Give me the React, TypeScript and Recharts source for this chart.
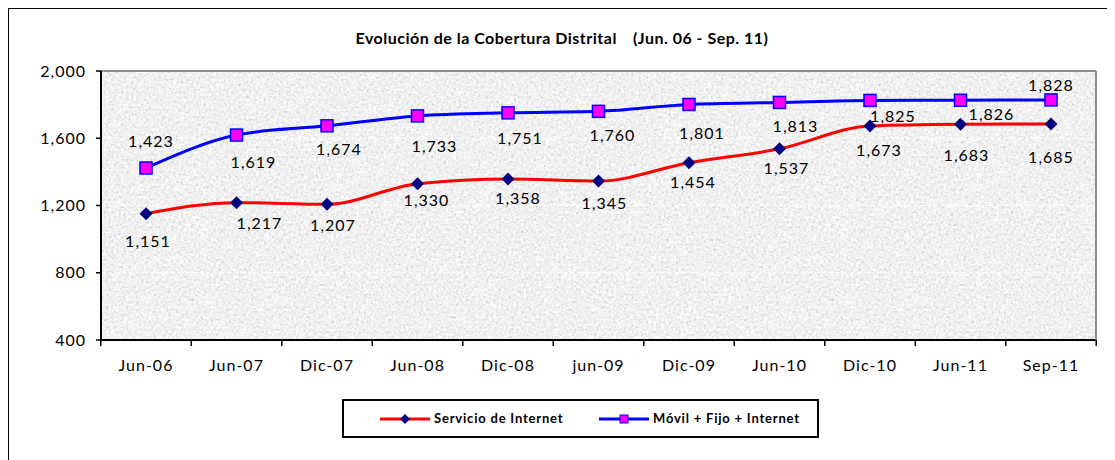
import React from "react";
import {
  LineChart,
  Line,
  CartesianGrid,
  XAxis,
  YAxis,
  ReferenceLine,
  LabelList,
} from "recharts";

const categories = [
  "Jun-06",
  "Jun-07",
  "Dic-07",
  "Jun-08",
  "Dic-08",
  "jun-09",
  "Dic-09",
  "Jun-10",
  "Dic-10",
  "Jun-11",
  "Sep-11",
];
const servicioInternet = [1151, 1217, 1207, 1330, 1358, 1345, 1454, 1537, 1673, 1683, 1685];
const movilFijoInternet = [1423, 1619, 1674, 1733, 1751, 1760, 1801, 1813, 1825, 1826, 1828];
const yTicks = [400, 800, 1200, 1600, 2000];

// label nudges (dx, dy) from the point, like the excel layout
const redLabelOffsets = [
  [2, 27], [23, 20], [6, 20], [9, 16], [10, 19], [6, 21],
  [4, 19], [7, 19], [9, 24], [6, 30], [0, 33],
];
const blueLabelOffsets = [
  [5, -28], [17, 26], [12, 23], [17, 30], [12, 25], [14, 23],
  [13, 28], [16, 23], [23, 15], [31, 13], [0, -15],
];

const FONT = "Lato, 'Open Sans', sans-serif";
const TICK_MARGIN = 20;

const chartData = categories.map((cat, i) => ({
  cat,
  internet: servicioInternet[i],
  movil: movilFijoInternet[i],
}));

const fmt = (v: number) => v.toLocaleString("en-US");

const Diamond = (props: any) => {
  const { cx, cy } = props;
  if (cx == null || cy == null) return null;
  const r = 6.5;
  return (
    <path
      d={`M${cx},${cy - r}L${cx + r},${cy}L${cx},${cy + r}L${cx - r},${cy}Z`}
      fill="#000080"
    />
  );
};

const Square = (props: any) => {
  const { cx, cy } = props;
  if (cx == null || cy == null) return null;
  return (
    <rect
      x={cx - 6}
      y={cy - 6}
      width={12}
      height={12}
      fill="#FF00FF"
      stroke="#0000FF"
      strokeWidth={1.5}
    />
  );
};

// category label plus excel-style tick marks on the band edges
const CategoryTick = (props: any) => {
  const { x, y, payload, index, width } = props;
  const half = width / categories.length / 2;
  const axisY = y - TICK_MARGIN;
  const last = index === categories.length - 1;
  return (
    <g>
      <line x1={x - half} y1={axisY} x2={x - half} y2={axisY + 6} stroke="#000" strokeWidth={1.5} />
      {last && (
        <line x1={x + half} y1={axisY} x2={x + half} y2={axisY + 6} stroke="#000" strokeWidth={1.5} />
      )}
      <text
        x={x}
        y={y}
        dy="0.71em"
        textAnchor="middle"
        fontSize={16}
        letterSpacing={1}
        fontFamily={FONT}
        fill="#000"
      >
        {payload.value}
      </text>
    </g>
  );
};

const makeLabel = (offsets: number[][]) => (props: any) => {
  const { x, y, value, index } = props;
  const [dx, dy] = offsets[index] ?? [0, 20];
  return (
    <text
      x={x + dx}
      y={y + dy}
      textAnchor="middle"
      dominantBaseline="central"
      fontSize={16}
      letterSpacing={1}
      fontFamily={FONT}
      fill="#000"
    >
      {fmt(value)}
    </text>
  );
};

const App = () => {
  return (
    <div
      style={{
        position: "relative",
        marginLeft: -1,
        marginTop: -1,
        width: 1110,
        height: 460,
        border: "2px solid #000",
        boxSizing: "border-box",
        background: "#fff",
        fontFamily: FONT,
      }}
    >
      <div
        style={{
          position: "absolute",
          left: 0,
          top: 19,
          width: 1106,
          textAlign: "center",
          fontWeight: 700,
          fontSize: 16,
          letterSpacing: 0.5,
          whiteSpace: "pre",
          color: "#000",
        }}
      >
        <span>Evolución de la Cobertura Distrital</span>
        <span style={{ marginLeft: 16 }}>(Jun. 06 - Sep. 11)</span>
      </div>

      <div style={{ position: "absolute", left: 0, top: 0 }}>
        <LineChart
          width={1100}
          height={365}
          data={chartData}
          margin={{ top: 62, right: 12, bottom: 4, left: 32 }}
        >
          <defs>
            <filter id="speckle" x="0" y="0" width="1" height="1">
              <feTurbulence
                type="fractalNoise"
                baseFrequency="0.4"
                numOctaves={3}
                seed={7}
                result="noise"
              />
              <feColorMatrix
                in="noise"
                type="matrix"
                values="0 0 0 0 0.6  0 0 0 0 0.6  0 0 0 0 0.6  2.2 0 0 0 -1.05"
                result="dark"
              />
              <feColorMatrix
                in="noise"
                type="matrix"
                values="0 0 0 0 1  0 0 0 0 1  0 0 0 0 1  0 2.4 0 0 -0.9"
                result="light"
              />
              <feMerge>
                <feMergeNode in="dark" />
                <feMergeNode in="light" />
              </feMerge>
            </filter>
            <pattern id="granite" patternUnits="userSpaceOnUse" width={1100} height={365}>
              <rect width={1100} height={365} fill="#eeeeee" />
              <rect width={1100} height={365} fill="#000" filter="url(#speckle)" />
            </pattern>
          </defs>
          <CartesianGrid
            fill="url(#granite)"
            vertical={false}
            stroke="#ffffff"
            strokeDasharray="4 3"
          />
          <ReferenceLine y={2000} stroke="#8c8c8c" strokeWidth={2} />
          <XAxis
            dataKey="cat"
            height={30}
            padding={{ left: 45, right: 45 }}
            tickLine={false}
            tickSize={0}
            tickMargin={TICK_MARGIN}
            axisLine={{ stroke: "#000", strokeWidth: 2 }}
            tick={<CategoryTick />}
            interval={0}
          />
          <YAxis
            domain={[400, 2000]}
            ticks={yTicks}
            width={60}
            tickSize={5}
            tickMargin={10}
            tickFormatter={fmt}
            axisLine={{ stroke: "#000", strokeWidth: 2 }}
            tickLine={{ stroke: "#000", strokeWidth: 1.5 }}
            tick={{ fill: "#000", fontSize: 16, fontFamily: FONT, letterSpacing: 1 }}
          />
          <YAxis
            yAxisId="right"
            orientation="right"
            domain={[400, 2000]}
            ticks={yTicks}
            width={1}
            tick={false}
            tickLine={false}
            axisLine={{ stroke: "#8c8c8c", strokeWidth: 2 }}
          />
          <Line
            type="monotone"
            dataKey="internet"
            name="Servicio de Internet"
            stroke="#FF0000"
            strokeWidth={3}
            dot={<Diamond />}
            activeDot={false}
            isAnimationActive={false}
          >
            <LabelList dataKey="internet" content={makeLabel(redLabelOffsets)} />
          </Line>
          <Line
            yAxisId="right"
            type="monotone"
            dataKey="movil"
            name="Móvil + Fijo + Internet"
            stroke="#0000FF"
            strokeWidth={3}
            dot={<Square />}
            activeDot={false}
            isAnimationActive={false}
          >
            <LabelList dataKey="movil" content={makeLabel(blueLabelOffsets)} />
          </Line>
        </LineChart>
      </div>

      <div
        style={{
          position: "absolute",
          left: 333,
          top: 390,
          width: 477,
          height: 39,
          border: "2px solid #000",
          boxSizing: "border-box",
          fontSize: 13,
          fontWeight: 700,
          letterSpacing: 0.8,
          color: "#000",
        }}
      >
        <svg
          width={50}
          height={14}
          style={{ position: "absolute", left: 36, top: 11 }}
        >
          <line x1={0} y1={7} x2={50} y2={7} stroke="#FF0000" strokeWidth={3} />
          <path d="M25,2L30,7L25,12L20,7Z" fill="#000080" />
        </svg>
        <span style={{ position: "absolute", left: 90, top: 9 }}>
          Servicio de Internet
        </span>
        <svg
          width={50}
          height={14}
          style={{ position: "absolute", left: 255, top: 11 }}
        >
          <line x1={0} y1={7} x2={50} y2={7} stroke="#0000FF" strokeWidth={3} />
          <rect x={21} y={3} width={8} height={8} fill="#FF00FF" stroke="#0000FF" strokeWidth={1} />
        </svg>
        <span style={{ position: "absolute", left: 309, top: 9 }}>
          Móvil + Fijo + Internet
        </span>
      </div>
    </div>
  );
};

export default App;
